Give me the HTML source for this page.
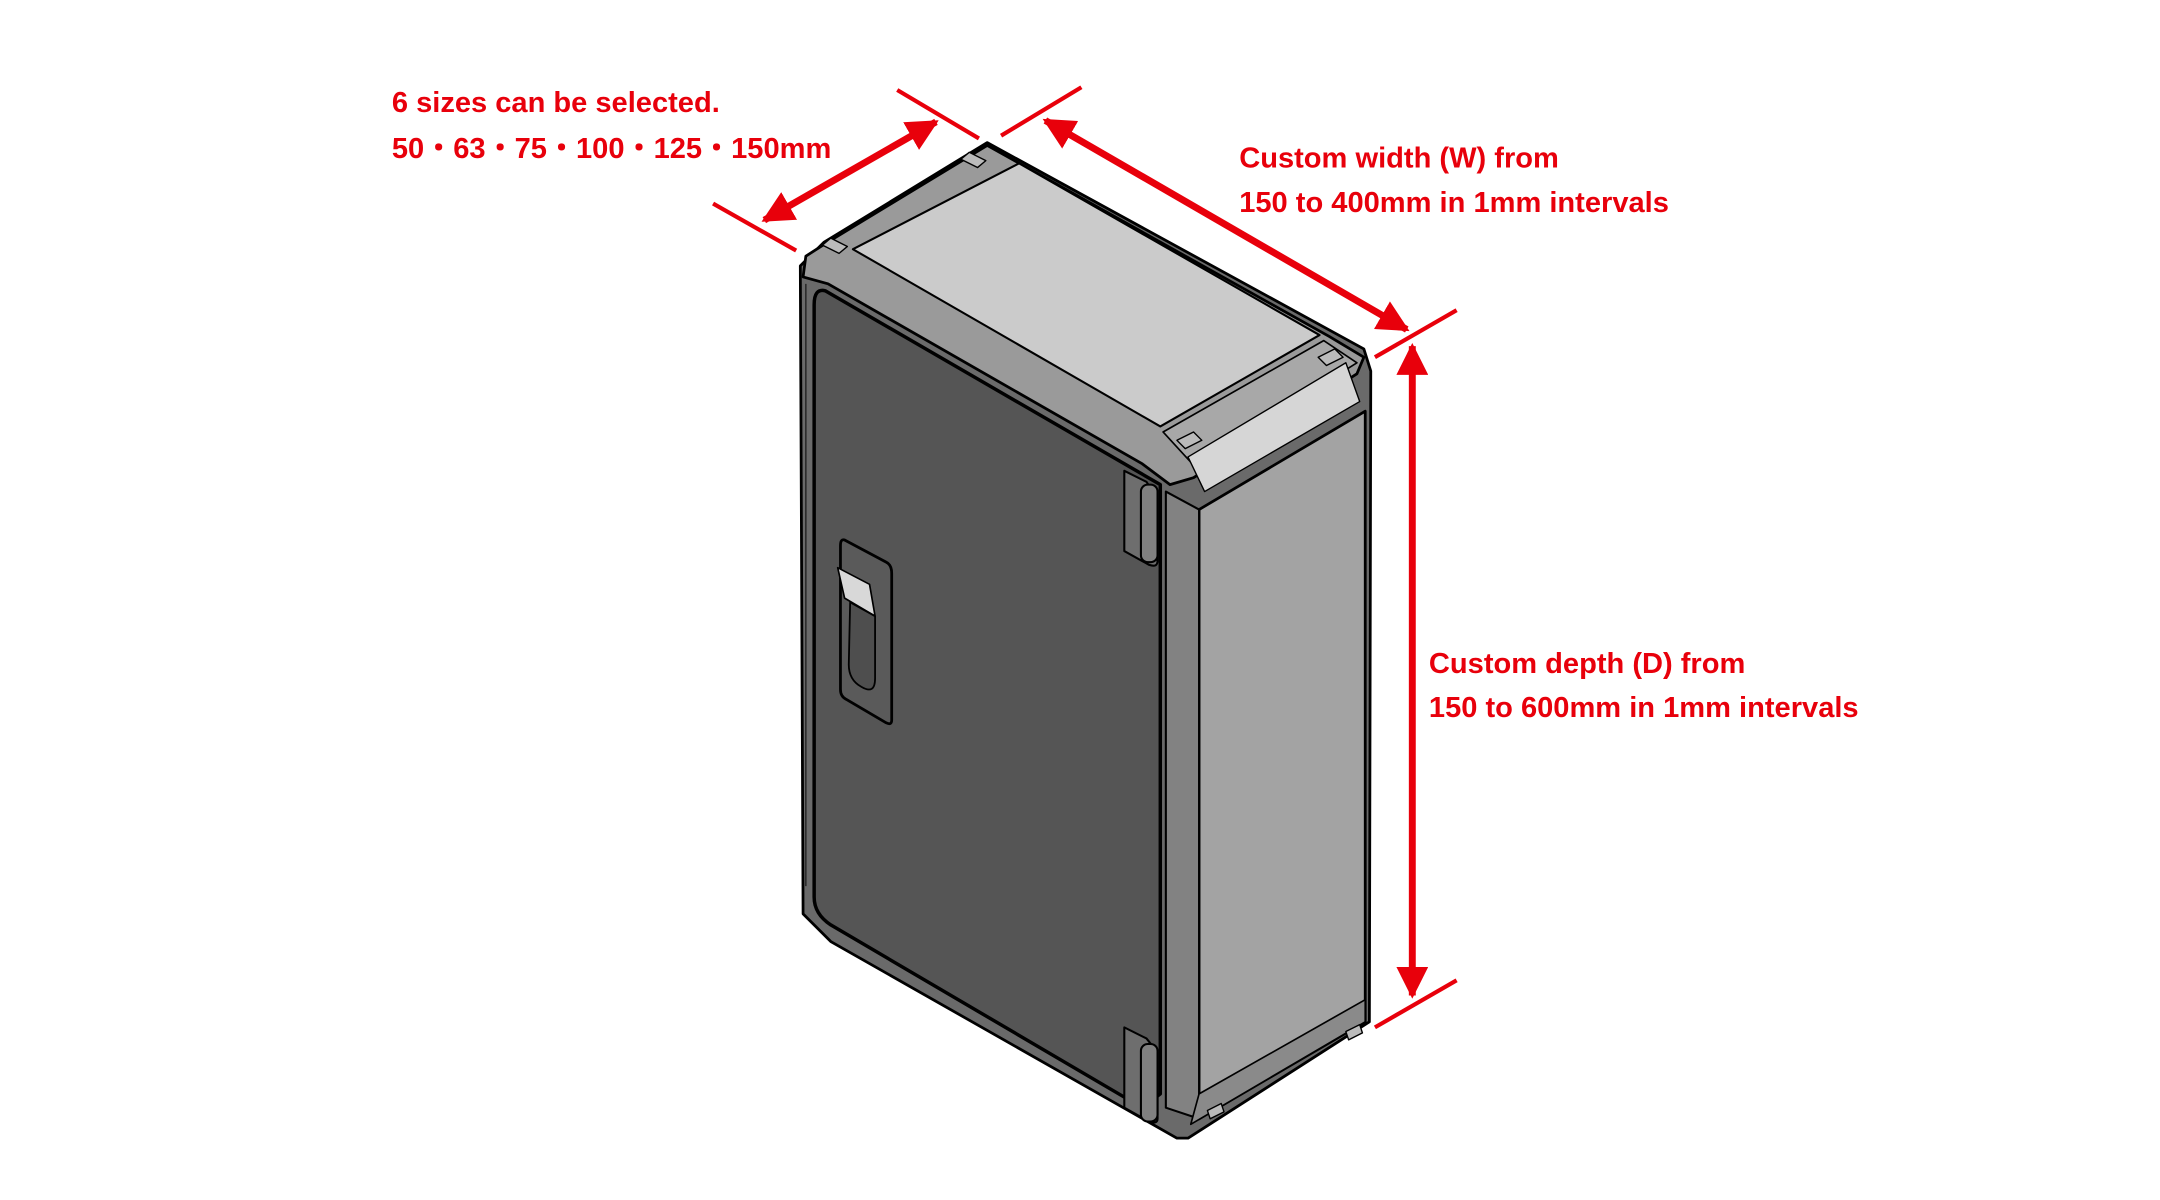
<!DOCTYPE html>
<html><head><meta charset="utf-8"><style>
html,body{margin:0;padding:0;background:#fff;width:2160px;height:1200px;overflow:hidden}
svg{display:block}
text{font-family:"Liberation Sans",sans-serif;font-weight:bold;font-size:21px;fill:#e8000b}
</style></head><body>
<svg width="2160" height="1200" viewBox="0 0 1560 866.67" xmlns="http://www.w3.org/2000/svg">
<defs>
<marker id="ah" viewBox="0 0 10 10" refX="9" refY="5" markerWidth="4.6" markerHeight="4.6" orient="auto-start-reverse"><path d="M0,0 L10,5 L0,10 z" fill="#e8000b"/></marker>
</defs>
<g stroke="#000" stroke-width="2" stroke-linejoin="round">
<path d="M713,103 L985,252 L990,268 L989,738 L858,822 L850,822 L600,680 L580,660 L578,192 L595,175 Z" fill="#6a6a6a"/>
<path d="M713,105 L960,243 L985,258 L980,270 L862,345 L845,350 L825,335 L598,205 L580,200 L582,185 L596,176 Z" fill="#9a9a9a"/>
<path d="M736,118 L953,242 L838,308 L616,180 Z" fill="#cbcbcb" stroke-width="1.5"/>
<path d="M840,312 L956,246 L980,262 L862,336 Z" fill="#a8a8a8" stroke-width="1.2"/>
<path d="M858,330 L972,262 L982,290 L870,355 Z" fill="#d6d6d6" stroke-width="1"/>
<path d="M866,368 L986,297 L986,738 L866,808 Z" fill="#a3a3a3"/>
<path d="M842,355 L866,368 L866,808 L842,800 Z" fill="#828282" stroke-width="1.5"/>
<path d="M866,790 L986,722 L986,738 L860,812 Z" fill="#8a8a8a" stroke-width="1.2"/>
<path d="M596,210 L838,350 L838,790 L825,800 L600,668 Q588,660 588,648 L588,220 Q588,208 596,210 Z" fill="#555" stroke-width="2.5"/>
<path d="M582,640 L582,205" stroke="#222" stroke-width="1" fill="none"/>
<path d="M610,390 L640,406 Q644,408 644,414 L644,520 Q644,524 640,522 L611,505 Q607,503 607,498 L607,394 Q607,389 610,390 Z" fill="#5a5a5a"/>
<path d="M605,410 L628,422 L632,445 L610,432 Z" fill="#d8d8d8" stroke-width="1.2"/>
<path d="M614,435 L632,445 L632,490 Q632,502 622,496 Q613,491 613,480 Z" fill="#4e4e4e" stroke-width="1.3"/>
<path d="M812,340 L828,348 L836,360 L836,405 Q836,410 830,408 L812,398 Z" fill="#6e6e6e" stroke-width="1.5"/>
<rect x="824" y="350" width="12" height="56" rx="5" fill="#808080" stroke-width="1.5"/>
<path d="M812,742 L828,750 L836,760 L836,808 Q836,812 830,810 L812,800 Z" fill="#6e6e6e" stroke-width="1.5"/>
<rect x="824" y="754" width="12" height="56" rx="5" fill="#808080" stroke-width="1.5"/>
<path d="M700,110 L712,116 L706,121 L694,115 Z" fill="#bbb" stroke-width="1"/>
<path d="M600,172 L612,178 L606,183 L594,177 Z" fill="#bbb" stroke-width="1"/>
<path d="M952,258 L964,252 L970,258 L958,264 Z" fill="#bbb" stroke-width="1"/>
<path d="M850,318 L862,312 L868,318 L856,324 Z" fill="#bbb" stroke-width="1"/>
<path d="M972,745 L982,740 L984,746 L974,751 Z" fill="#bbb" stroke-width="1"/>
<path d="M872,802 L882,797 L884,803 L874,808 Z" fill="#bbb" stroke-width="1"/>
</g>
<g stroke="#e8000b" stroke-width="3" fill="none">
<line x1="648" y1="65" x2="707" y2="100"/>
<line x1="515" y1="147" x2="575" y2="181"/>
<line x1="723" y1="98" x2="781" y2="63"/>
<line x1="993" y1="258" x2="1052" y2="224"/>
<line x1="993" y1="742" x2="1052" y2="708"/>
<line x1="552" y1="159" x2="676" y2="88" stroke-width="5" marker-start="url(#ah)" marker-end="url(#ah)"/>
<line x1="755" y1="87" x2="1016" y2="238" stroke-width="5" marker-start="url(#ah)" marker-end="url(#ah)"/>
<line x1="1020" y1="250" x2="1020" y2="719" stroke-width="5" marker-start="url(#ah)" marker-end="url(#ah)"/>
</g>
<text x="283" y="81">6 sizes can be selected.</text>
<text x="283" y="114">50・63・75・100・125・150mm</text>
<text x="895" y="121">Custom width (W) from</text>
<text x="895" y="153">150 to 400mm in 1mm intervals</text>
<text x="1032" y="486">Custom depth (D) from</text>
<text x="1032" y="518">150 to 600mm in 1mm intervals</text>
</svg>
</body></html>
